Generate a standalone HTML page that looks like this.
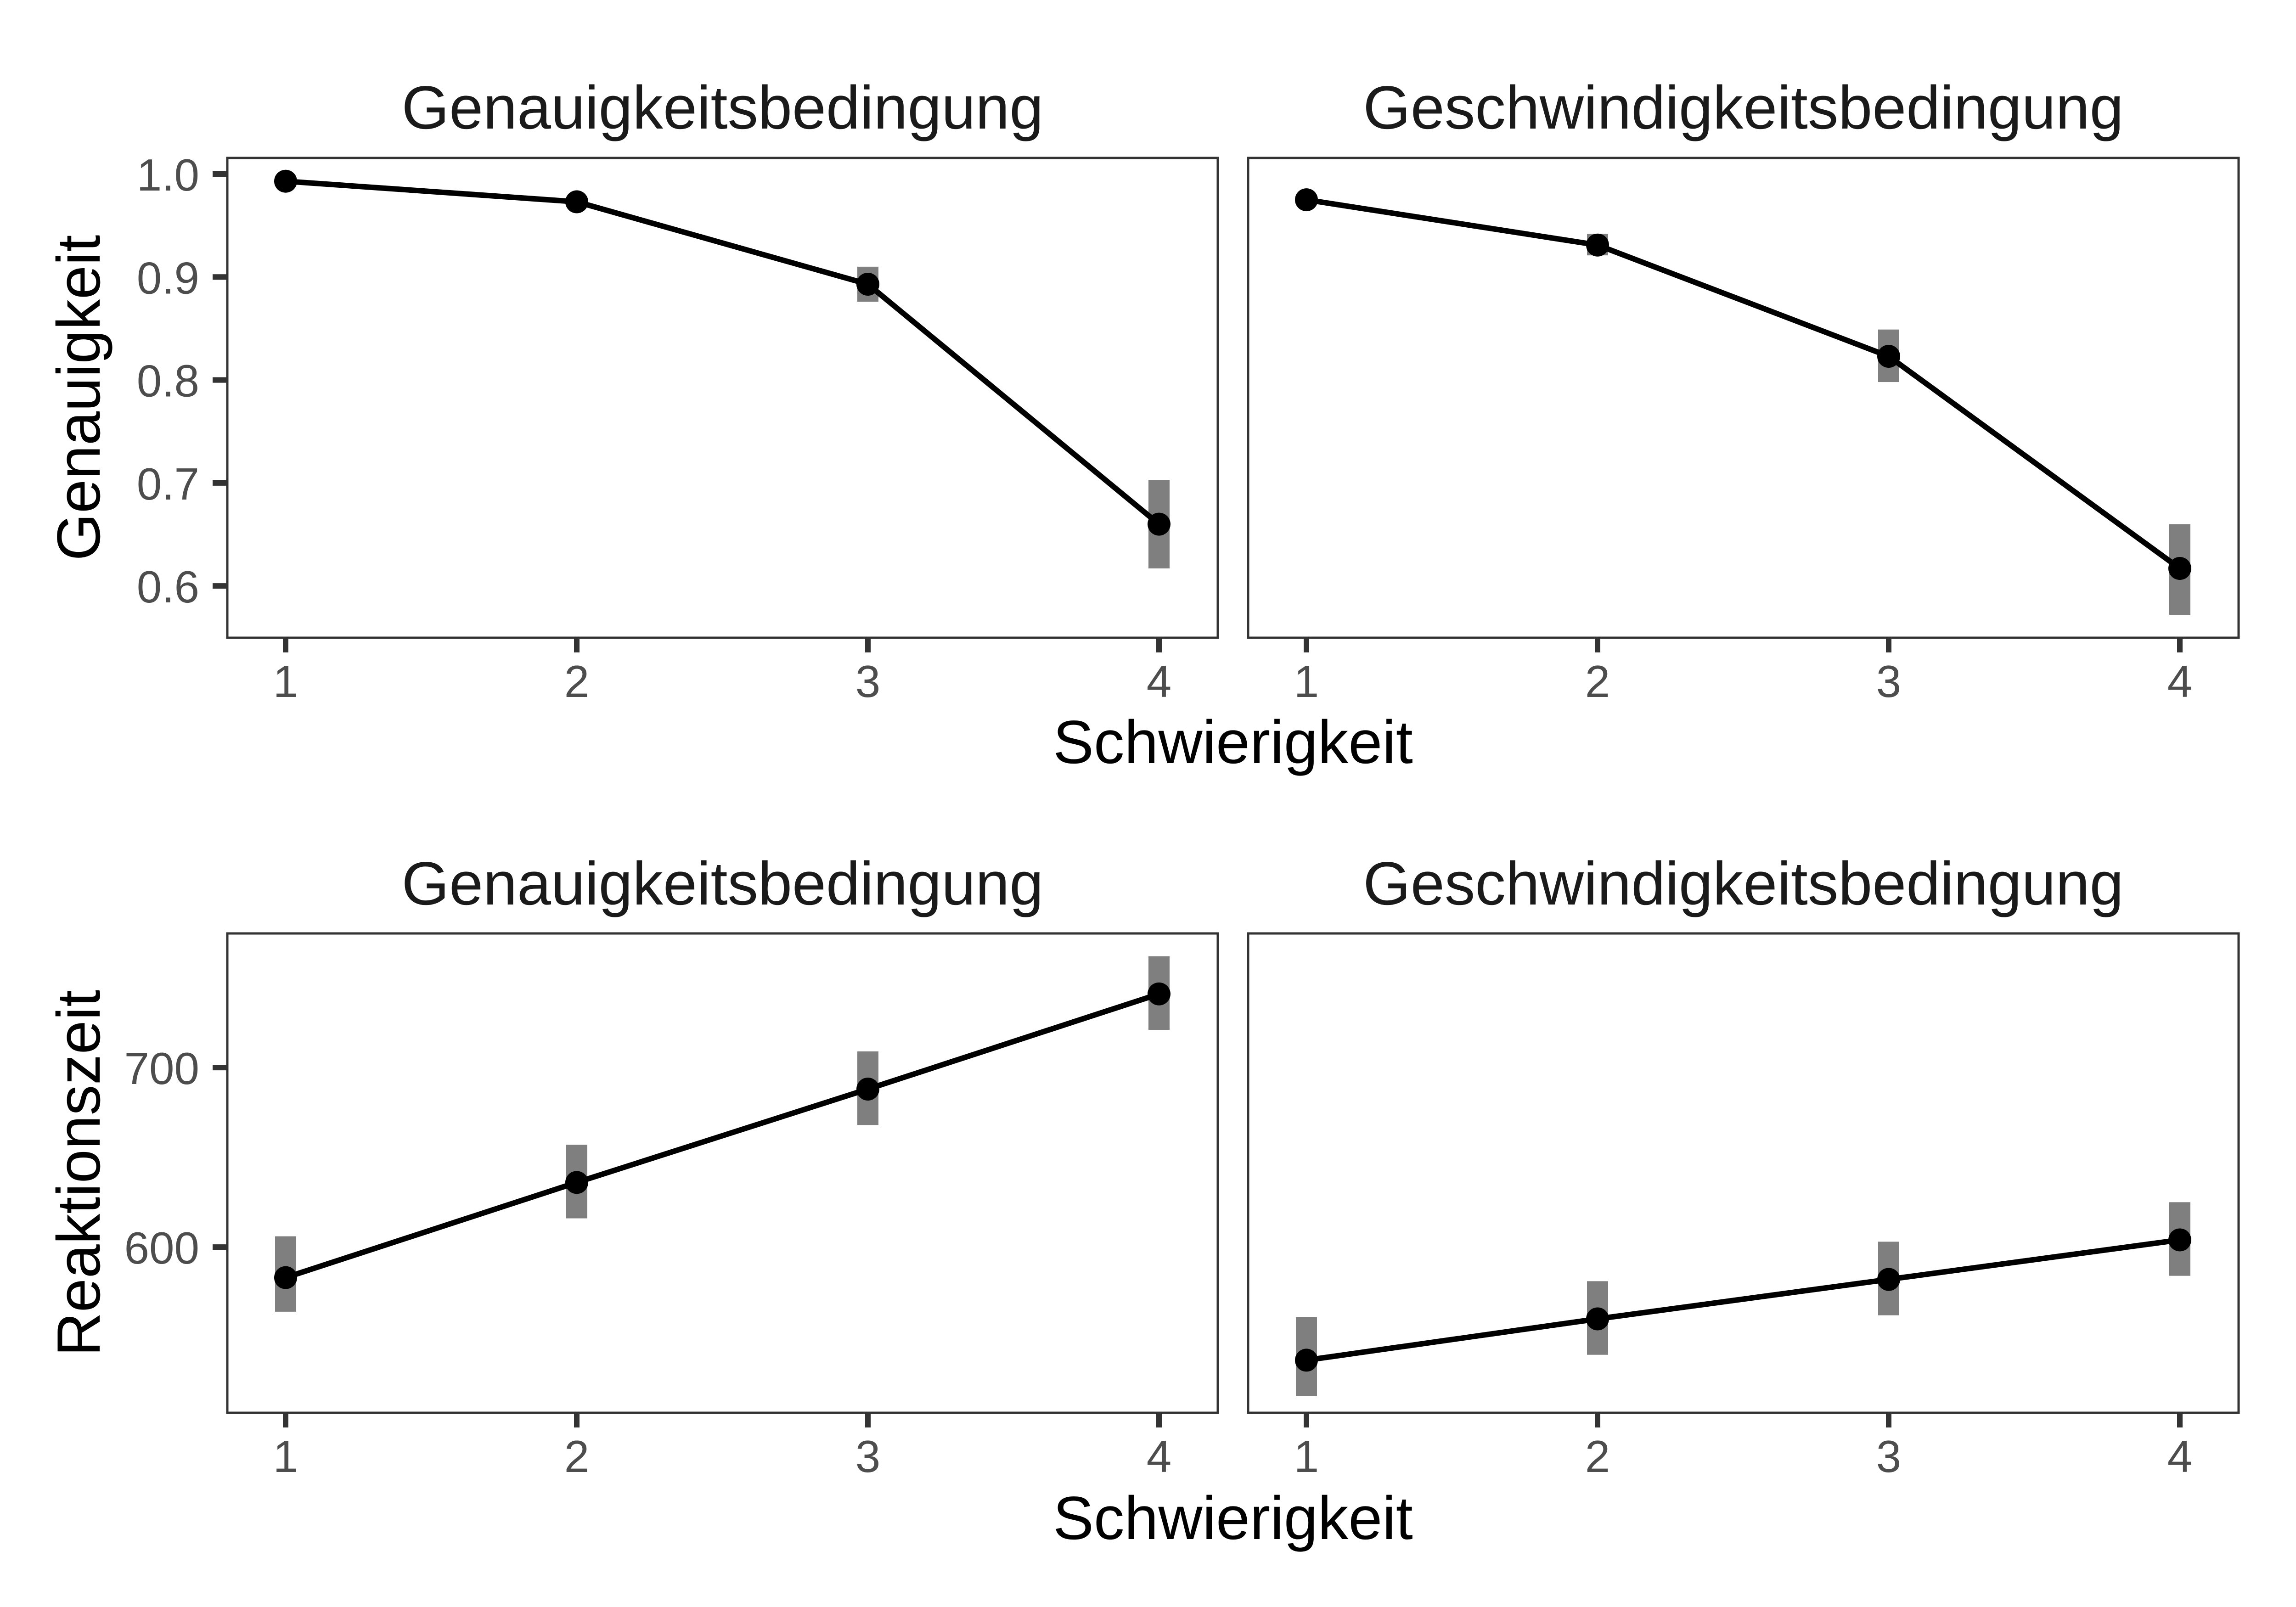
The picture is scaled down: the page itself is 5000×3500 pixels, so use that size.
<!DOCTYPE html>
<html><head><meta charset="utf-8"><style>html,body{margin:0;padding:0;background:#fff}svg{display:block}</style></head>
<body>
<svg id="chart" xmlns="http://www.w3.org/2000/svg" width="5000" height="3500" viewBox="0 0 5000 3500" font-family="Liberation Sans, Arial, sans-serif">
<rect width="5000" height="3500" fill="#fff"/>
<g id="plots"></g>
</svg>
<script>
const categories = [1, 2, 3, 4];
const accGenau = [0.993, 0.973, 0.893, 0.660];
const accGenauLo = [0.989, 0.969, 0.876, 0.617];
const accGenauHi = [0.997, 0.977, 0.910, 0.703];
const accSpeed = [0.975, 0.931, 0.823, 0.617];
const accSpeedLo = [0.971, 0.921, 0.798, 0.572];
const accSpeedHi = [0.979, 0.942, 0.849, 0.660];
const rtGenau = [583, 636, 688, 741];
const rtGenauLo = [564, 616, 668, 721];
const rtGenauHi = [606, 657, 709, 762];
const rtSpeed = [537, 560, 582, 604];
const rtSpeedLo = [517, 540, 562, 584];
const rtSpeedHi = [561, 581, 603, 625];
const accTicks = [0.6, 0.7, 0.8, 0.9, 1.0];
const accTickLabels = ["0.6", "0.7", "0.8", "0.9", "1.0"];
const rtTicks = [600, 700];
const rtTickLabels = ["600", "700"];
const stripTitles = ["Genauigkeitsbedingung", "Geschwindigkeitsbedingung"];

const NS = "http://www.w3.org/2000/svg";
const root = document.getElementById("plots");
function mk(tag, attrs, parent) {
  const e = document.createElementNS(NS, tag);
  for (const k in attrs) e.setAttribute(k, attrs[k]);
  (parent || root).appendChild(e);
  return e;
}
const cols = [{x0: 495, x1: 2652}, {x0: 2718, x1: 4875}];
const rows = [
  {y0: 344, y1: 1389, dmin: 0.5497, dmax: 1.0156, ticks: accTicks, labels: accTickLabels, ytitle: "Genauigkeit", titleY: 280, xtitleY: 1662,
   series: [[accGenau, accGenauLo, accGenauHi], [accSpeed, accSpeedLo, accSpeedHi]]},
  {y0: 2033, y1: 3077, dmin: 507.7, dmax: 774.7, ticks: rtTicks, labels: rtTickLabels, ytitle: "Reaktionszeit", titleY: 1970, xtitleY: 3352,
   series: [[rtGenau, rtGenauLo, rtGenauHi], [rtSpeed, rtSpeedLo, rtSpeedHi]]}
];
rows.forEach((r, ri) => {
  const sy = v => r.y1 - (v - r.dmin) / (r.dmax - r.dmin) * (r.y1 - r.y0);
  cols.forEach((c, ci) => {
    const sx = v => c.x0 + 127 + (v - 1) * 634;
    const g = mk("g", {});
    
    
    const t = mk("text", {x: (c.x0 + c.x1) / 2, y: r.titleY, "text-anchor": "middle", "font-size": 133, fill: "#1a1a1a"}, g);
    t.textContent = stripTitles[ci];
    
    
    const s = r.series[ci];
    categories.forEach((cat, i) => {
      const eb = mk("rect", {x: sx(cat) - 23, y: sy(s[2][i]), width: 46, height: sy(s[1][i]) - sy(s[2][i]), fill: "#7f7f7f"}, g);
      
      
    });
    const pts = categories.map((cat, i) => sx(cat) + "," + sy(s[0][i])).join(" ");
    const ln = mk("polyline", {points: pts, fill: "none", stroke: "#000", "stroke-width": 12}, g);
    
    
    categories.forEach((cat, i) => {
      const p = mk("circle", {cx: sx(cat), cy: sy(s[0][i]), r: 25, fill: "#000"}, g);
      
      
    });
    const fr = mk("rect", {x: c.x0, y: r.y0, width: c.x1 - c.x0, height: r.y1 - r.y0, fill: "none", stroke: "#333", "stroke-width": 5}, g);
    
    
    categories.forEach(cat => {
      const tk = mk("line", {x1: sx(cat), x2: sx(cat), y1: r.y1, y2: r.y1 + 32, stroke: "#333", "stroke-width": 12}, g);
      
      
      const tl = mk("text", {x: sx(cat), y: r.y1 + 129, "text-anchor": "middle", "font-size": 98, fill: "#4d4d4d"}, g);
      tl.textContent = cat;
      
      
    });
    if (ci === 0) {
      r.ticks.forEach((v, i) => {
        const tk = mk("line", {x1: c.x0 - 32, x2: c.x0, y1: sy(v), y2: sy(v), stroke: "#333", "stroke-width": 12}, g);
        
        
        const tl = mk("text", {x: 434, y: sy(v) + 36, "text-anchor": "end", "font-size": 98, fill: "#4d4d4d"}, g);
        tl.textContent = r.labels[i];
        
        
      });
    }
  });
  const cy = (r.y0 + r.y1) / 2;
  const yt = mk("text", {x: 217, y: cy, transform: "rotate(-90 217 " + cy + ")", "text-anchor": "middle", "font-size": 133, fill: "#000"});
  yt.textContent = r.ytitle;
  
  
  const xt = mk("text", {x: (cols[0].x0 + cols[1].x1) / 2, y: r.xtitleY, "text-anchor": "middle", "font-size": 133, fill: "#000"});
  xt.textContent = "Schwierigkeit";
  
  
});
</script>
</body></html>
